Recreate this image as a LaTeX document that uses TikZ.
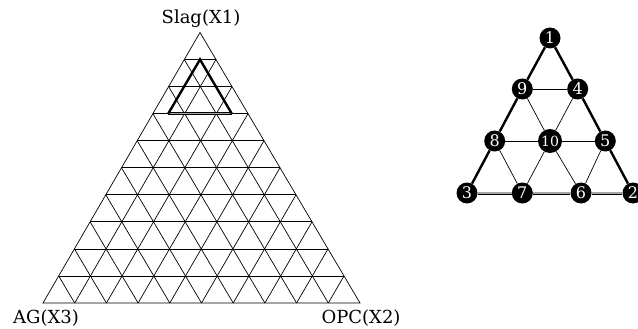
\documentclass[tikz,border=0pt]{standalone}
\usepackage{fontspec}
\setmainfont{DejaVu Serif}
\usetikzlibrary{calc}
\begin{document}
\begin{tikzpicture}[x=1pt,y=-1pt,
  gridline/.style={line width=0.7pt},
  boldedge/.style={line width=2.4pt},
  grayedge/.style={draw=black, line width=0.6pt, double=gray!70, double distance=1.8pt},
  thinedge/.style={line width=0.7pt},
  ptnode/.style={circle, fill=black, text=white, inner sep=0pt, minimum size=21pt,
    font=\fontsize{16}{16}\selectfont},
  lbl/.style={font=\fontsize{18}{20}\selectfont, inner sep=0pt}]
\useasboundingbox (0,0) rectangle (638,329);
% left ternary grid
\coordinate (A) at (200,32.5);
\coordinate (L) at (43,303);
\coordinate (R) at (360,303);
\draw[gridline] (A) -- (L) -- (R) -- cycle;
\foreach \k in {1,...,9} {
  \draw[gridline] ($(A)!\k/10!(L)$) -- ($(A)!\k/10!(R)$);
  \draw[gridline] ($(L)!\k/10!(R)$) -- ($(R)!{(10-\k)/10}!(A)$);
  \draw[gridline] ($(L)!\k/10!(R)$) -- ($(L)!\k/10!(A)$);
}
% bold sub-region
\coordinate (T1) at (200,59.5);
\coordinate (T2) at (168.3,113.5);
\coordinate (T3) at (231.7,113.5);
\draw[grayedge] (T2) -- (T3);
\draw[boldedge, line join=miter] (T2) -- (T1) -- (T3);
% labels
\node[lbl] (s) at (201,19) {Slag(X1)};
\node[lbl] (ag) at (46,318) {AG(X3)};
\node[lbl] (opc) at (361,318) {OPC(X2)};
% right design triangle
\node[ptnode] (n1) at (550,38) {1};
\node[ptnode] (n9) at (522.3,89) {9};
\node[ptnode] (n4) at (577.7,89) {4};
\node[ptnode] (n8) at (494.7,141) {8};
\node[ptnode, minimum size=24pt, font=\fontsize{14}{14}\selectfont] (n10) at (550,141) {10};
\node[ptnode] (n5) at (605.3,141) {5};
\node[ptnode] (n3) at (467,193) {3};
\node[ptnode] (n7) at (522.3,193) {7};
\node[ptnode] (n6) at (581,193) {6};
\node[ptnode] (n2) at (633,193) {2};
\draw[boldedge] (n1) -- (n9) -- (n8) -- (n3);
\draw[boldedge] (n1) -- (n4) -- (n5) -- (n2);
\draw[grayedge] (n3) -- (n7) -- (n6) -- (n2);
\draw[thinedge] (n9) -- (n4);
\draw[thinedge] (n8) -- (n10) -- (n5);
\draw[thinedge] (n9) -- (n10) -- (n6);
\draw[thinedge] (n4) -- (n10) -- (n7);
\draw[thinedge] (n8) -- (n7);
\draw[thinedge] (n5) -- (n6);
\end{tikzpicture}
\end{document}
